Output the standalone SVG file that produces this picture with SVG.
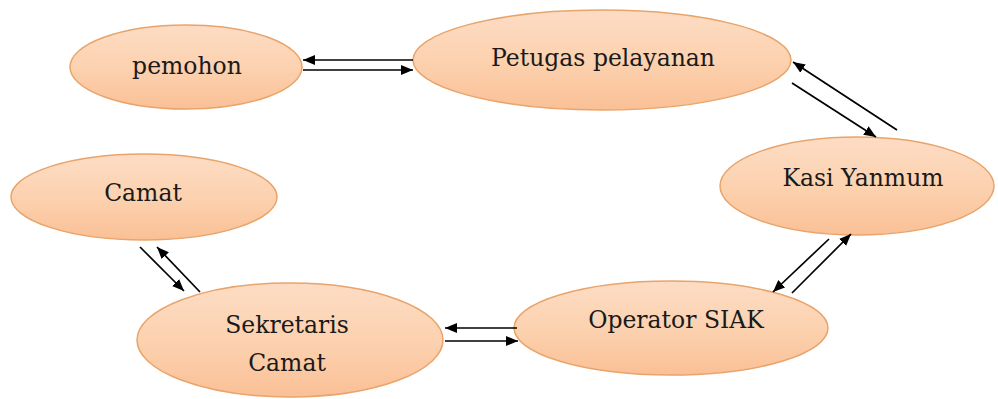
<svg xmlns="http://www.w3.org/2000/svg" width="998" height="399" viewBox="0 0 998 399">
<defs>
<linearGradient id="g" x1="0" y1="0" x2="0" y2="1">
<stop offset="0" stop-color="#FDDCC4"/>
<stop offset="0.5" stop-color="#FCD2B0"/>
<stop offset="1" stop-color="#FAC096"/>
</linearGradient>
<marker id="ah" viewBox="0 0 10 10" refX="10" refY="5" markerWidth="12" markerHeight="10" markerUnits="userSpaceOnUse" orient="auto" preserveAspectRatio="none">
<path d="M0,0 L10,5 L0,10 z" fill="#000"/>
</marker>
</defs>
<style>
.n ellipse{fill:url(#g);stroke:#E8A46A;stroke-width:1.5}
.n text{font-family:"DejaVu Serif","Liberation Serif",serif;font-size:23.5px;fill:#1a1a1a;text-anchor:middle}
#edges line{stroke:#000;stroke-width:1.7;marker-end:url(#ah)}
</style>
<rect width="998" height="399" fill="#fff"/>
<g id="pemohon" class="n"><ellipse cx="186" cy="67" rx="116" ry="42"/><text x="187" y="74">pemohon</text></g>
<g id="petugas" class="n"><ellipse cx="602" cy="60" rx="189" ry="50"/><text x="603" y="66">Petugas pelayanan</text></g>
<g id="kasi" class="n"><ellipse cx="857" cy="186" rx="137" ry="49"/><text x="863" y="186">Kasi Yanmum</text></g>
<g id="camat" class="n"><ellipse cx="144" cy="197" rx="133" ry="43"/><text x="143" y="201">Camat</text></g>
<g id="sekretaris" class="n"><ellipse cx="290" cy="340" rx="153" ry="57"/><text x="287" y="333">Sekretaris</text><text x="287" y="371">Camat</text></g>
<g id="operator" class="n"><ellipse cx="671" cy="328" rx="157" ry="47"/><text x="676" y="328">Operator SIAK</text></g>
<g id="edges">
<line x1="413" y1="60" x2="303" y2="60"/>
<line x1="303" y1="70" x2="413" y2="70"/>
<line x1="897" y1="130" x2="793" y2="62"/>
<line x1="792" y1="83" x2="876" y2="137"/>
<line x1="792" y1="293" x2="851" y2="234"/>
<line x1="829" y1="239" x2="773" y2="292"/>
<line x1="517" y1="328" x2="445" y2="328"/>
<line x1="445" y1="341" x2="518" y2="341"/>
<line x1="140" y1="247" x2="184" y2="291"/>
<line x1="200" y1="292" x2="157" y2="247"/>
</g>
</svg>
